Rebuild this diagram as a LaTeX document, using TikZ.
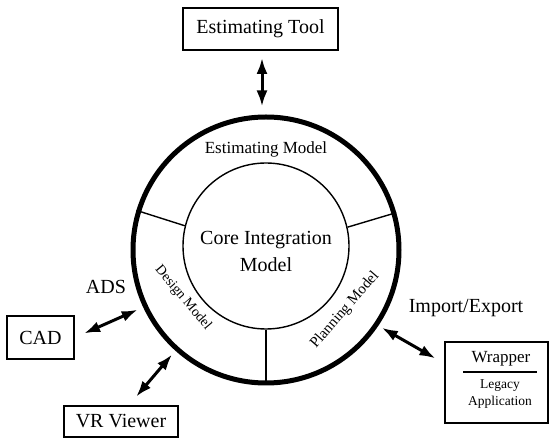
\documentclass[tikz,border=0pt]{standalone}
\usepackage{fontspec}
\setmainfont{Liberation Serif}
\usetikzlibrary{arrows.meta,calc}

\tikzset{
  toolbox/.style={draw,line width=1.8pt,inner sep=0pt,font=\fontsize{20}{24}\selectfont},
  link/.style={line width=3pt,{Latex[length=16pt,width=11pt]}-{Latex[length=16pt,width=11pt]}},
  bigtxt/.style={font=\fontsize{20}{27}\selectfont,inner sep=0pt}
}

\begin{document}
\begin{tikzpicture}[x=1pt,y=1pt]
    \useasboundingbox (0,0) rectangle (550,439);
    % model ring
    \node[circle,draw,line width=5pt,minimum size=266pt,inner sep=0pt] (ring) at (266,189) {};
    \node[circle,draw,line width=1.4pt,minimum size=166pt,inner sep=0pt] (core) at (266,193) {};
    \draw[line width=1.4pt] (core.166) -- (ring.163);
    \draw[line width=1.4pt] (core.13) -- (ring.16);
    \draw[line width=1.4pt] (core.270) -- (ring.270);
    \node[bigtxt,align=center] (coretxt) at (266,188) {Core Integration\\Model};
    \node[inner sep=0pt,font=\fontsize{17}{20}\selectfont] (estmodel) at (266,290) {Estimating Model};
    \node[inner sep=0pt,rotate=-50,font=\fontsize{14}{17}\selectfont] (desmodel) at (183,141) {Design Model};
    \node[inner sep=0pt,rotate=49,font=\fontsize{15}{18}\selectfont] (planmodel) at (345,129) {Planning Model};
    % tools
    \node[toolbox,minimum width=155pt,minimum height=42pt] (tool) at (260.5,410) {Estimating Tool};
    \node[toolbox,minimum width=67pt,minimum height=43pt] (cad) at (40.5,101.5) {CAD};
    \node[toolbox,minimum width=114pt,minimum height=31pt] (vr) at (121,17.5) {VR Viewer};
    \node[toolbox,minimum width=103pt,minimum height=81pt] (wrap) at (496.5,56.5) {};
    \node[inner sep=0pt,font=\fontsize{17}{20}\selectfont] (wraptitle) at (501,80) {Wrapper};
    \draw[line width=1.2pt] (463,67) -- (537,67);
    \node[inner sep=0pt,align=center,font=\fontsize{13.5}{17}\selectfont] (legacy) at (500,44.5) {Legacy\\Application};
    \node[bigtxt] (ads) at (106,152) {ADS};
    \node[bigtxt] (impexp) at (466,131) {Import/Export};
    % connectors
    \draw[link,shorten <=7pt,shorten >=8pt] ([xshift=1.5pt]tool.south) -- ([xshift=1.5pt]tool.south |- ring.north);
    \draw[link,shorten <=10pt,shorten >=6pt] (cad.0) -- (ring.205);
    \draw[link,shorten <=11pt,shorten >=5pt] ([xshift=8pt]vr.north) -- (ring.228);
    \draw[link,shorten <=4pt,shorten >=10pt] (ring.-34) -- (wrap.160);
\end{tikzpicture}
\end{document}
